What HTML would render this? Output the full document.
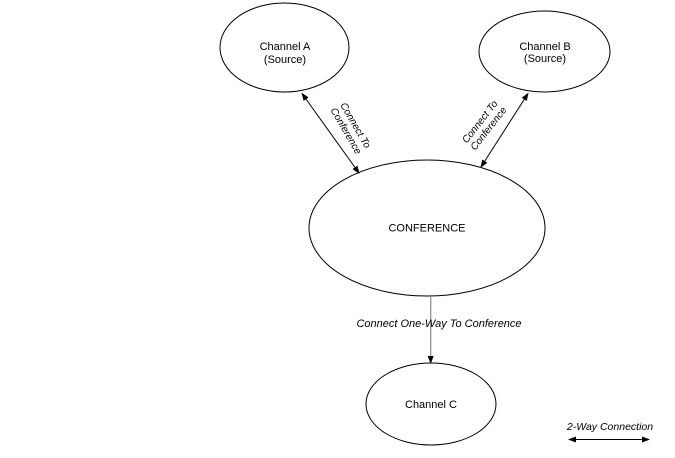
<!DOCTYPE html>
<html>
<head>
<meta charset="utf-8">
<style>
html,body{margin:0;padding:0;background:#fff;}
body{width:675px;height:458px;overflow:hidden;}
svg{display:block;}
text{font-family:"Liberation Sans",Arial,sans-serif;fill:#000;}
</style>
</head>
<body>
<svg width="675" height="458" viewBox="0 0 675 458" xmlns="http://www.w3.org/2000/svg">
<defs>
<marker id="ah" markerWidth="8" markerHeight="6" refX="7" refY="3" orient="auto" markerUnits="userSpaceOnUse">
<path d="M0,0 L8,3 L0,6 Z" fill="#000"/>
</marker>
<marker id="ahs" markerWidth="8" markerHeight="6" refX="1" refY="3" orient="auto" markerUnits="userSpaceOnUse">
<path d="M8,0 L0,3 L8,6 Z" fill="#000"/>
</marker>
</defs>

<!-- Channel A -->
<ellipse cx="284.5" cy="47.5" rx="64.5" ry="44.5" fill="none" stroke="#000" stroke-width="1"/>
<text x="285" y="50" font-size="11" text-anchor="middle">Channel A</text>
<text x="285" y="63" font-size="11" text-anchor="middle">(Source)</text>

<!-- Channel B -->
<ellipse cx="544.5" cy="51.5" rx="65.5" ry="40.5" fill="none" stroke="#000" stroke-width="1"/>
<text x="545" y="50" font-size="11" text-anchor="middle">Channel B</text>
<text x="545" y="62" font-size="11" text-anchor="middle">(Source)</text>

<!-- Conference -->
<ellipse cx="427" cy="228" rx="118" ry="68" fill="none" stroke="#000" stroke-width="1"/>
<text x="427" y="231.5" font-size="11" text-anchor="middle">CONFERENCE</text>

<!-- Channel C -->
<ellipse cx="431" cy="404" rx="65" ry="41" fill="none" stroke="#000" stroke-width="1"/>
<text x="431" y="408" font-size="11" text-anchor="middle">Channel C</text>

<!-- A <-> Conference -->
<line x1="302" y1="93.5" x2="359" y2="173" stroke="#000" stroke-width="1" marker-start="url(#ahs)" marker-end="url(#ah)"/>
<g transform="translate(351,128) rotate(60)">
<text x="0" y="-2" font-size="10" font-style="italic" text-anchor="middle">Connect To</text>
<text x="0" y="9" font-size="10" font-style="italic" text-anchor="middle">Conference</text>
</g>

<!-- B <-> Conference -->
<line x1="528" y1="93.5" x2="481" y2="167" stroke="#000" stroke-width="1" marker-start="url(#ahs)" marker-end="url(#ah)"/>
<g transform="translate(484,125) rotate(-52)">
<text x="0" y="-2" font-size="10" font-style="italic" text-anchor="middle">Connect To</text>
<text x="0" y="9" font-size="10" font-style="italic" text-anchor="middle">Conference</text>
</g>

<!-- Conference -> C -->
<line x1="430.7" y1="296" x2="430.7" y2="363" stroke="#888" stroke-width="1.2" marker-end="url(#ah)"/>
<text x="439" y="327" font-size="11" font-style="italic" text-anchor="middle">Connect One-Way To Conference</text>

<!-- Legend -->
<text x="610" y="430" font-size="10.5" font-style="italic" text-anchor="middle">2-Way Connection</text>
<line x1="569" y1="439.5" x2="649" y2="439.5" stroke="#000" stroke-width="1" marker-start="url(#ahs)" marker-end="url(#ah)"/>
</svg>
</body>
</html>
